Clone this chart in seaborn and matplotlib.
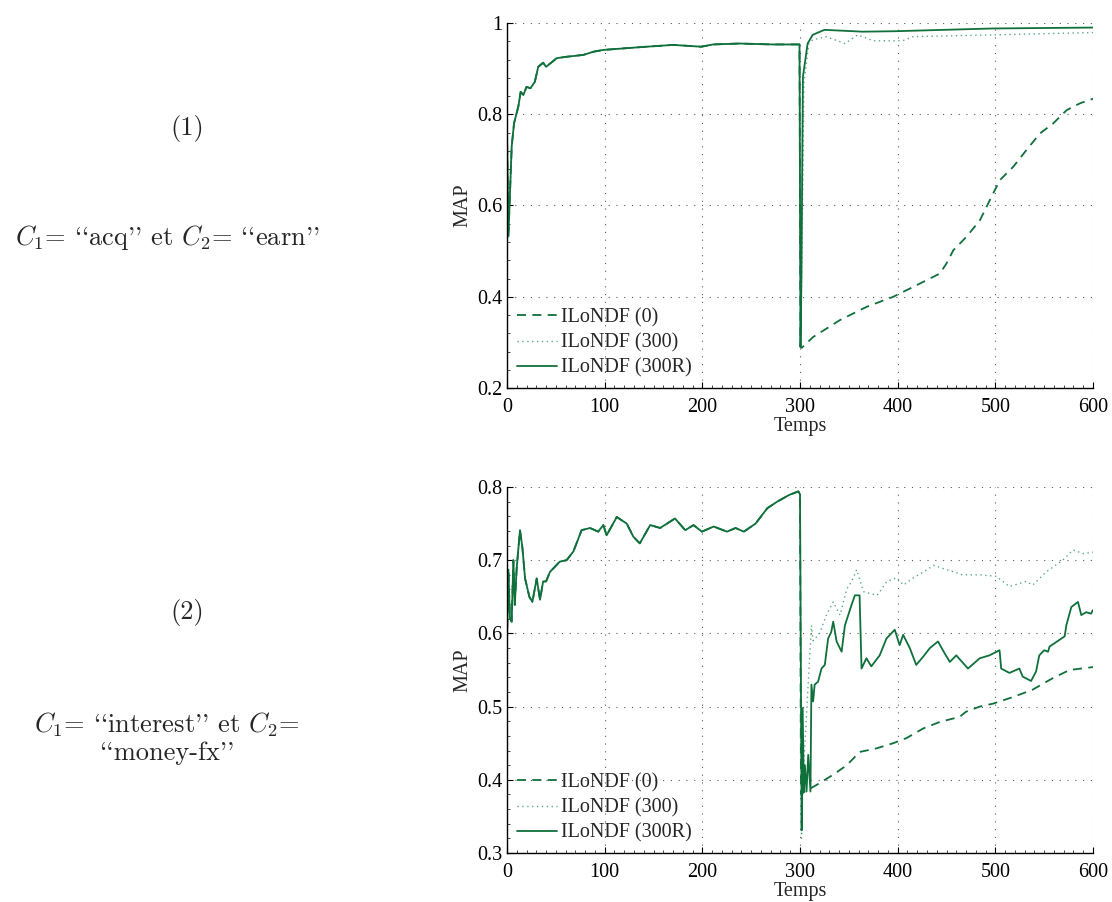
import numpy as np
import pandas as pd
import matplotlib
matplotlib.use("Agg")
import matplotlib.pyplot as plt
from matplotlib.ticker import AutoMinorLocator
import seaborn as sns

# --- panel (1): acq / earn -------------------------------------------------
t_pre1 = [0, 1.4, 4.8, 7.2, 11.6, 14, 16.7, 20, 24, 28.5, 32, 37, 40, 51, 61,
          78, 88.5, 98.6, 136, 170, 199, 211, 238, 272, 299.5]
v_pre1 = [0.765, 0.532, 0.729, 0.780, 0.817, 0.849, 0.842, 0.860, 0.857, 0.871,
          0.904, 0.913, 0.904, 0.923, 0.926, 0.930, 0.937, 0.941, 0.947, 0.952,
          0.948, 0.953, 0.955, 0.953, 0.953]

t_zero1 = [300.5, 301.7, 313.6, 341, 368.3, 395.5, 422.8, 443.3, 450, 457,
           470.7, 484.3, 497.9, 504.8, 518.4, 532, 545.7, 559.3, 573, 586.7, 600]
v_zero1 = [0.29, 0.288, 0.312, 0.349, 0.378, 0.400, 0.429, 0.451, 0.473, 0.502,
           0.532, 0.568, 0.627, 0.656, 0.685, 0.722, 0.758, 0.780, 0.809, 0.824, 0.834]

t_300_1 = [300.5, 301.5, 304, 309, 313, 327, 346, 359, 375, 405, 416, 497, 600]
v_300_1 = [0.29, 0.40, 0.868, 0.955, 0.963, 0.970, 0.955, 0.974, 0.961, 0.961,
           0.970, 0.974, 0.979]

t_300r_1 = [300.5, 301.5, 303, 307.8, 313, 325, 364, 398, 497, 600]
v_300r_1 = [0.29, 0.45, 0.882, 0.955, 0.974, 0.985, 0.981, 0.982, 0.988, 0.990]

# --- panel (2): interest / money-fx ----------------------------------------
t_pre2 = [0, 1.4, 3, 4.8, 6.5, 8, 9.9, 13.3, 15.7, 18.5, 22.9, 26, 30.4, 33.8,
          37, 40, 44, 54, 61, 68, 76.4, 85, 93.4, 98.6, 102, 112.4, 122.6, 129.4,
          136, 146.6, 156.8, 172, 182.5, 191, 199.5, 211.6, 225.3, 234, 242.5,
          254.5, 266.5, 276.7, 288.7, 298.3, 300]
v_pre2 = [0.587, 0.687, 0.621, 0.616, 0.700, 0.639, 0.689, 0.741, 0.718, 0.675,
          0.650, 0.643, 0.675, 0.646, 0.671, 0.671, 0.684, 0.698, 0.700, 0.712,
          0.741, 0.744, 0.739, 0.748, 0.734, 0.759, 0.750, 0.732, 0.723, 0.748,
          0.744, 0.757, 0.741, 0.748, 0.739, 0.746, 0.739, 0.744, 0.739, 0.750,
          0.771, 0.780, 0.789, 0.794, 0.790]

t_zero2 = [301, 305, 317, 334, 348, 361, 378.5, 395.5, 409, 426, 443, 463.5,
           470, 484, 497.5, 518, 538, 559, 576, 600]
v_zero2 = [0.38, 0.384, 0.393, 0.407, 0.420, 0.438, 0.443, 0.450, 0.457, 0.470,
           0.479, 0.486, 0.493, 0.500, 0.504, 0.513, 0.523, 0.539, 0.550, 0.554]

t_300_2 = [301.5, 303, 311.7, 313.4, 320, 327, 334, 341, 348, 353, 358, 365, 379,
           389, 399, 406, 416, 426.5, 436.8, 450, 467, 484, 501, 514.4, 531.5,
           538.3, 552, 569, 579.5, 590, 600]
v_300_2 = [0.32, 0.40, 0.611, 0.590, 0.600, 0.625, 0.643, 0.625, 0.661, 0.671,
           0.687, 0.657, 0.652, 0.671, 0.676, 0.666, 0.676, 0.684, 0.693, 0.687,
           0.680, 0.680, 0.678, 0.664, 0.671, 0.666, 0.684, 0.700, 0.714, 0.709,
           0.711]

t_300r_2 = [301.7, 302.7, 304, 305, 306.7, 308.4, 310.7, 311.7, 313.4, 315, 318.5,
            322, 325.4, 328.8, 332, 334, 337.5, 342.6, 346, 349.4, 352.8, 356.2,
            361, 363, 368, 373, 381.6, 388.5, 397, 402, 405.6, 412.4, 419, 426,
            433, 441.3, 448, 453.4, 460, 472, 484, 494, 504.3, 506, 514.4, 524.6,
            528, 536.6, 541.7, 545, 550, 554, 555.5, 571, 572.7, 577.8, 584.6,
            588, 593, 598, 600]
v_300r_2 = [0.331, 0.498, 0.384, 0.420, 0.384, 0.434, 0.384, 0.530, 0.507, 0.530,
            0.534, 0.552, 0.557, 0.593, 0.602, 0.616, 0.589, 0.575, 0.611, 0.625,
            0.639, 0.652, 0.652, 0.552, 0.566, 0.555, 0.570, 0.593, 0.605, 0.584,
            0.598, 0.580, 0.557, 0.568, 0.580, 0.589, 0.573, 0.561, 0.570, 0.552,
            0.566, 0.570, 0.577, 0.552, 0.546, 0.552, 0.541, 0.535, 0.548, 0.570,
            0.577, 0.575, 0.582, 0.596, 0.611, 0.636, 0.643, 0.625, 0.629, 0.627,
            0.632]

labels = ["ILoNDF (0)", "ILoNDF (300)", "ILoNDF (300R)"]
# cmr10 uses TeX encoding: ` and ' give the curly quote glyphs
captions = [("(1)", ["$C_1$= ``acq'' et $C_2$= ``earn''"]),
            ("(2)", ["$C_1$= ``interest'' et $C_2$=", "``money-fx''"])]

sns.set_style("white")
plt.rcParams["font.family"] = ["Liberation Serif", "DejaVu Serif"]
plt.rcParams["mathtext.fontset"] = "cm"

green = "#10703c"
light = "#5aa882"
fs = 14.5

fig = plt.figure(figsize=(11.12, 9.02), dpi=100)
ax1 = fig.add_axes([507 / 1112, 1 - 388 / 902, 586 / 1112, 365 / 902])
ax2 = fig.add_axes([507 / 1112, 1 - 853 / 902, 586 / 1112, 366 / 902])


def series(t_pre, v_pre, t_post, v_post):
    return pd.DataFrame({"t": list(t_pre) + list(t_post),
                         "v": list(v_pre) + list(v_post)})


panels = [
    (ax1, t_pre1, v_pre1, [(t_zero1, v_zero1), (t_300_1, v_300_1), (t_300r_1, v_300r_1)],
     (0.2, 1.0), np.arange(0.2, 1.01, 0.2)),
    (ax2, t_pre2, v_pre2, [(t_zero2, v_zero2), (t_300_2, v_300_2), (t_300r_2, v_300r_2)],
     (0.3, 0.8), np.arange(0.3, 0.81, 0.1)),
]

for ax, t_pre, v_pre, posts, ylim, yticks in panels:
    styles = [dict(color=green, lw=1.3, linestyle=(0, (5, 3.5))),
              dict(color=light, lw=1.0, linestyle=(0, (1, 2.5))),
              dict(color=green, lw=1.3, linestyle="-")]
    for (tp, vp), lab, st in zip(posts, labels, styles):
        df = series(t_pre, v_pre, tp, vp)
        sns.lineplot(data=df, x="t", y="v", ax=ax, sort=False, label=lab, **st)

    ax.set_xlim(0, 600)
    ax.set_ylim(*ylim)
    ax.set_xticks([0, 100, 200, 300, 400, 500, 600])
    ax.set_yticks(yticks)
    ax.set_yticklabels([f"{y:g}" for y in np.round(yticks, 2)])
    ax.xaxis.set_minor_locator(AutoMinorLocator(10))
    ax.yaxis.set_minor_locator(AutoMinorLocator(5))
    ax.grid(True, which="major", color="0.35", lw=0.8, linestyle=(0, (1, 6)))
    for s in ["top", "right"]:
        ax.spines[s].set_visible(False)
    for s in ["left", "bottom"]:
        ax.spines[s].set_color("black")
        ax.spines[s].set_linewidth(1.0)
    ax.tick_params(which="major", direction="in", length=4, width=0.8,
                   labelsize=fs, colors="black", left=True, bottom=True)
    ax.tick_params(which="minor", direction="in", length=2, width=0.6,
                   left=True, bottom=True)
    ax.tick_params(axis="x", which="major", pad=7)
    ax.tick_params(axis="y", which="major", pad=3)
    ax.set_xlabel("Temps", fontsize=fs, labelpad=0)
    ax.set_ylabel("MAP", fontsize=fs, labelpad=4)
    ax.legend(loc="lower left", frameon=False, fontsize=fs, handlelength=2.0,
              handletextpad=0.2, labelspacing=0.3, borderaxespad=0.3, borderpad=0.2)

cm = ["cmr10", "DejaVu Serif"]
fig.text(187 / 1112, 1 - 128 / 902, captions[0][0], ha="center", va="center",
         fontsize=19, family=cm)
fig.text(167 / 1112, 1 - 238 / 902, captions[0][1][0], ha="center", va="center",
         fontsize=19, family=cm)
fig.text(187 / 1112, 1 - 612 / 902, captions[1][0], ha="center", va="center",
         fontsize=19, family=cm)
fig.text(167 / 1112, 1 - 725 / 902, captions[1][1][0], ha="center", va="center",
         fontsize=19, family=cm)
fig.text(167 / 1112, 1 - 753 / 902, captions[1][1][1], ha="center", va="center",
         fontsize=19, family=cm)

fig.savefig("out.png", dpi=100)
